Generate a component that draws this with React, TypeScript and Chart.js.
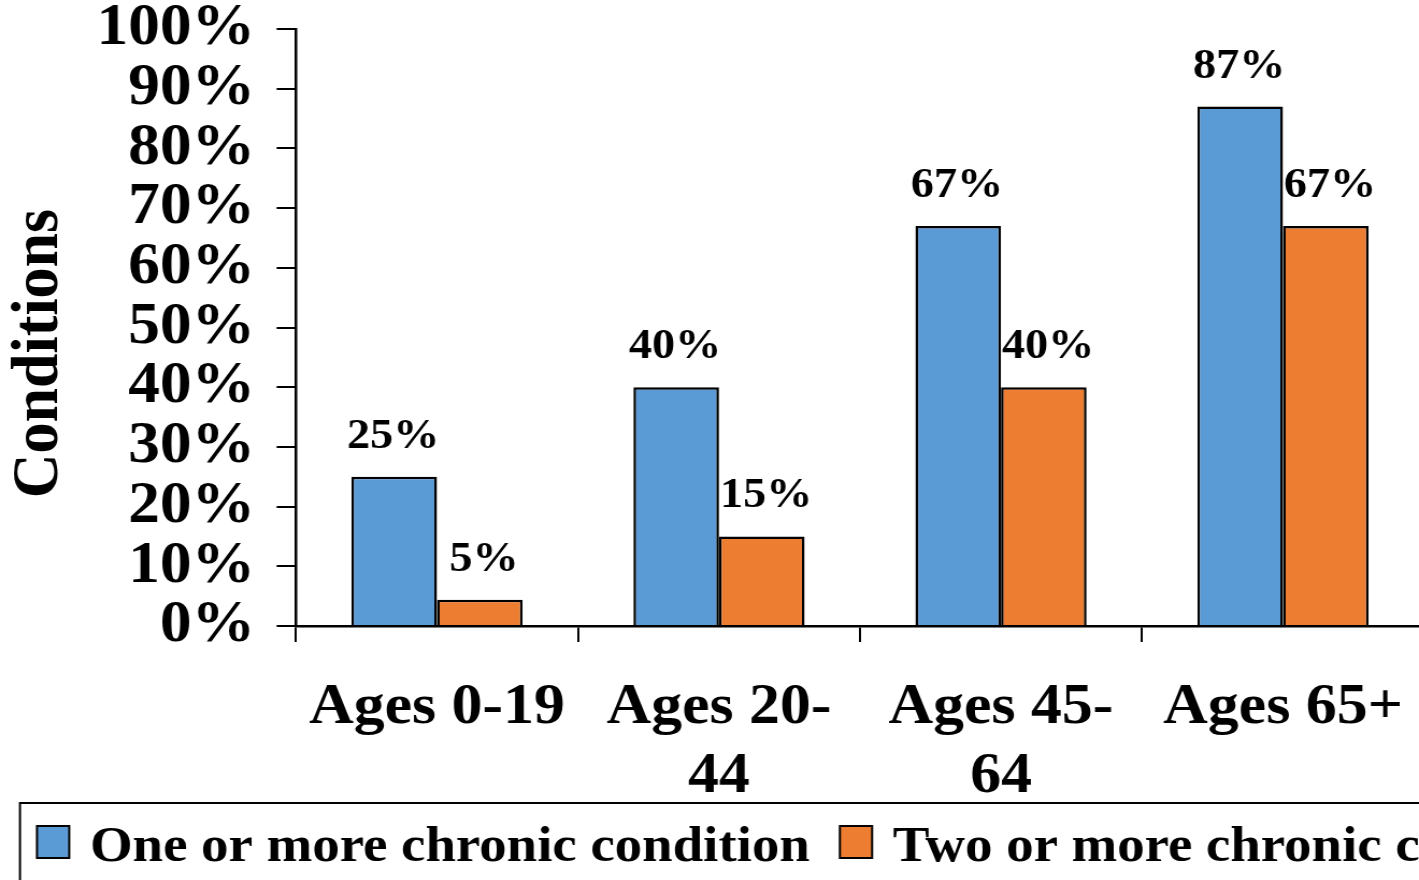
import React, { useEffect, useRef } from "react";
import { Chart, registerables } from "chart.js";

Chart.register(...registerables);

const categories: string[][] = [["Ages 0-19"], ["Ages 20-", "44"], ["Ages 45-", "64"], ["Ages 65+"]];
const oneOrMore: number[] = [25, 40, 67, 87];
const twoOrMore: number[] = [4.4, 15, 40, 67];
const oneOrMoreLabels: string[] = ["25%", "40%", "67%", "87%"];
const twoOrMoreLabels: string[] = ["5%", "15%", "40%", "67%"];
const seriesNames: string[] = ["One or more chronic condition", "Two or more chronic conditions"];
const seriesColors: string[] = ["#5B9BD5", "#ED7D31"];
const yTitle = "Conditions";

const SERIF = '"Liberation Serif", "Times New Roman", Times, serif';
const S = 1.075; // horizontal stretch of the picture
const W = 1340;
const H = 900;

const valueLabels = [oneOrMoreLabels, twoOrMoreLabels];

const dataLabelPlugin = {
  id: "dataLabels",
  afterDatasetsDraw(chart: any) {
    const ctx = chart.ctx;
    ctx.save();
    ctx.font = `bold 43px ${SERIF}`;
    ctx.fillStyle = "#000";
    ctx.textAlign = "center";
    ctx.textBaseline = "alphabetic";
    chart.data.datasets.forEach((_ds: any, i: number) => {
      const meta = chart.getDatasetMeta(i);
      meta.data.forEach((el: any, j: number) => {
        ctx.fillText(valueLabels[i][j], el.x + (i === 1 ? 4 : -1), el.y - 29);
      });
    });
    ctx.restore();
  },
};

const decorPlugin = {
  id: "decor",
  afterDraw(chart: any) {
    const ctx = chart.ctx;
    ctx.save();
    // y axis title
    ctx.font = `bold 62px ${SERIF}`;
    ctx.fillStyle = "#000";
    ctx.textAlign = "center";
    ctx.textBaseline = "middle";
    ctx.translate(37.2, 353.5);
    ctx.rotate(-Math.PI / 2);
    ctx.fillText(yTitle, 0, 0);
    ctx.restore();

    // legend
    ctx.save();
    ctx.strokeStyle = "#000";
    ctx.lineWidth = 2;
    ctx.strokeRect(18.6, 803, 3000, 300);
    ctx.font = `bold 51px ${SERIF}`;
    ctx.textAlign = "left";
    ctx.textBaseline = "alphabetic";
    let x = 34.4;
    chart.data.datasets.forEach((ds: any, i: number) => {
      ctx.fillStyle = seriesColors[i];
      ctx.fillRect(x, 826, 30, 32);
      ctx.strokeRect(x, 826, 30, 32);
      ctx.fillStyle = "#000";
      const tx = x + 49.3;
      ctx.fillText(ds.label, tx, 861);
      x = tx + ctx.measureText(ds.label).width + 28;
    });
    ctx.restore();
  },
};

export default function App() {
  const canvasRef = useRef<HTMLCanvasElement | null>(null);

  useEffect(() => {
    const canvas = canvasRef.current;
    if (!canvas) return;
    const chart = new Chart(canvas, {
      type: "bar",
      data: {
        labels: categories,
        datasets: [
          {
            label: seriesNames[0],
            data: oneOrMore,
            backgroundColor: seriesColors[0],
            borderColor: "#000",
            borderWidth: 2.5,
            categoryPercentage: 0.607,
            barPercentage: 1,
          },
          {
            label: seriesNames[1],
            data: twoOrMore,
            backgroundColor: seriesColors[1],
            borderColor: "#000",
            borderWidth: 2.5,
            categoryPercentage: 0.607,
            barPercentage: 1,
          },
        ],
      },
      options: {
        responsive: false,
        devicePixelRatio: 1,
        animation: false,
        layout: {
          padding: { top: 29, left: 0, right: W - 1424 / S, bottom: H - 803 },
        },
        plugins: {
          legend: { display: false },
          tooltip: { enabled: false },
          title: { display: false },
        },
        scales: {
          x: {
            grid: { drawOnChartArea: false, drawTicks: true, tickLength: 16, color: "#000", lineWidth: 2 },
            border: { display: true, color: "#000", width: 2.5 },
            ticks: {
              color: "#000",
              font: { family: SERIF, size: 57.5, weight: "bold", lineHeight: 1.2 },
              padding: 32,
              maxRotation: 0,
              minRotation: 0,
              autoSkip: false,
            },
            afterFit: (s: any) => {
              s.height = 177;
              s.paddingLeft = 0;
              s.paddingRight = 0;
            },
          },
          y: {
            min: 0,
            max: 100,
            grid: { drawOnChartArea: false, drawTicks: true, tickLength: 18, color: "#000", lineWidth: 2 },
            border: { display: true, color: "#000", width: 2.5 },
            ticks: {
              stepSize: 10,
              autoSkip: false,
              color: "#000",
              font: { family: SERIF, size: 59, weight: "bold", lineHeight: 1.0 },
              padding: 20,
              callback: (v: any) => `${v}%`,
            },
            afterFit: (s: any) => {
              s.width = 296 / S;
              s.paddingTop = 0;
              s.paddingBottom = 0;
            },
          },
        },
      },
      plugins: [dataLabelPlugin, decorPlugin],
    } as any);
    return () => chart.destroy();
  }, []);

  return (
    <div
      style={{
        position: "fixed",
        left: 0,
        top: 0,
        width: 1419,
        height: 880,
        overflow: "hidden",
        background: "#fff",
      }}
    >
      <div style={{ transform: `scaleX(${S})`, transformOrigin: "0 0", width: W, height: H }}>
        <canvas ref={canvasRef} width={W} height={H} style={{ display: "block" }} />
      </div>
    </div>
  );
}
